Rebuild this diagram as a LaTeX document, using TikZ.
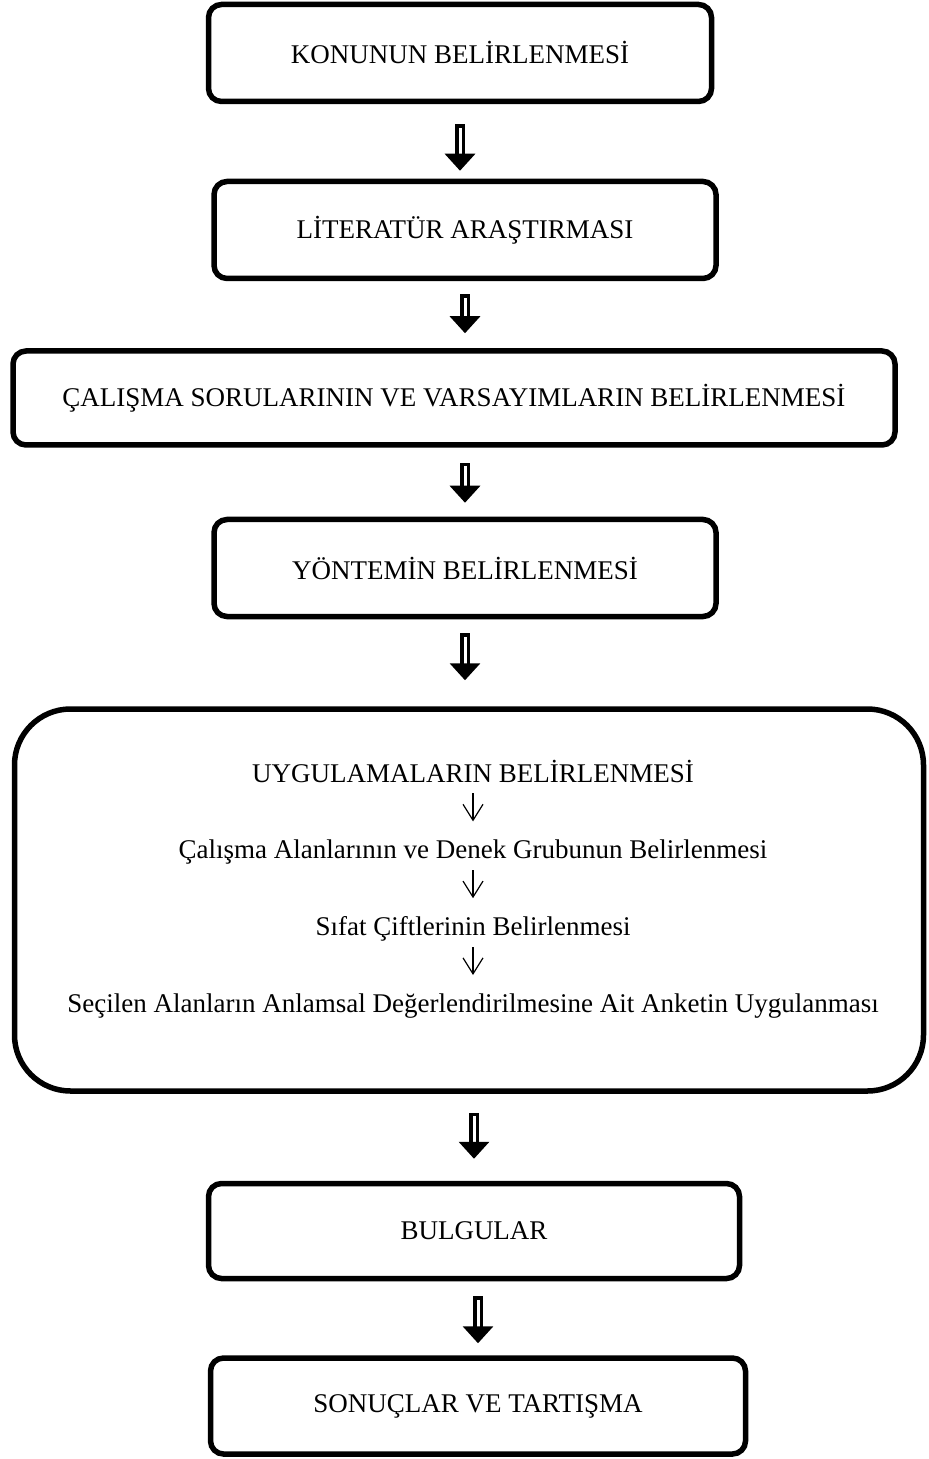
\documentclass[tikz,border=0pt]{standalone}
\usepackage{fontspec}
\setmainfont{Liberation Serif}
\usetikzlibrary{arrows.meta,calc,positioning}
\tikzset{
  >={Straight Barb[length=8pt,width=10pt]}
}

\begin{document}
\begin{tikzpicture}[
        x=0.5pt,y=-0.5pt,
        font=\fontsize{13.5pt}{16pt}\selectfont,
        rekt/.style={rectangle,draw,line width=2.75pt,rounded corners=6.5pt,minimum width=251pt,minimum height=48.5pt},
        satir/.style={inner sep=0pt,text height=9pt,text depth=2.5pt},
        kalin/.style={double,double distance=1.5pt,line width=1.75pt,{Rectangle[length=1.75pt,width=5pt]}-{Triangle[length=8.5pt,width=15pt]}},
        ince/.style={->,line width=0.6pt,shorten <=3pt,shorten >=9.5pt},
        node distance=26.5pt
      ]
      \useasboundingbox (0,0) rectangle (929,1459);
      \node (KONU) at (460,53) [rekt,minimum width=251.5pt] {KONUNUN BELİRLENMESİ};
      \node (LIT) at (465,230) [rekt] {LİTERATÜR ARAŞTIRMASI};
      \node (SORU) at (454,398) [rekt,minimum width=441pt,minimum height=47pt] {ÇALIŞMA SORULARININ VE VARSAYIMLARIN BELİRLENMESİ};
      \node (YON) at (465,568) [rekt] {YÖNTEMİN BELİRLENMESİ};
      \node (UYGU) at (469,900) [rekt,minimum width=454.5pt,minimum height=191pt,rounded corners=28pt] {};
      \node (BUL) at (474,1231) [rekt,minimum width=265.5pt,minimum height=47.5pt] {BULGULAR};
      \node (SONUC) at (478,1406) [rekt,minimum width=267.5pt,minimum height=48pt] {SONUÇLAR VE TARTIŞMA};
      \node (UYG) at (473,782) [satir,anchor=base] {UYGULAMALARIN BELİRLENMESİ};
      \node (CAL) [satir,below=of UYG] {Çalışma Alanlarının ve Denek Grubunun Belirlenmesi};
      \node (SIF) [satir,below=of CAL] {Sıfat Çiftlerinin Belirlenmesi};
      \node (SEC) [satir,below=of SIF] {Seçilen Alanların Anlamsal Değerlendirilmesine Ait Anketin Uygulanması};
      \draw[ince] (UYG) -- (CAL);
      \draw[ince] (CAL) -- (SIF);
      \draw[ince] (SIF) -- (SEC);
      \draw[kalin,shorten <=10pt,shorten >=4pt] (KONU.south) -- (KONU.south |- LIT.north);
      \draw[kalin,shorten <=6.5pt,shorten >=7.5pt] (LIT.south) -- (LIT.south |- SORU.north);
      \draw[kalin,shorten <=7.5pt,shorten >=7pt] (SORU.south -| YON) -- (YON.north);
      \draw[kalin,shorten <=7pt,shorten >=13pt] (YON.south) -- (YON.south |- UYGU.north);
      \draw[kalin,shorten <=9.5pt,shorten >=11pt] (UYGU.south -| BUL) -- (BUL.north);
      \draw[kalin,shorten <=7.5pt,shorten >=6pt] (BUL.south -| SONUC) -- (SONUC.north);
    \end{tikzpicture}
\end{document}
